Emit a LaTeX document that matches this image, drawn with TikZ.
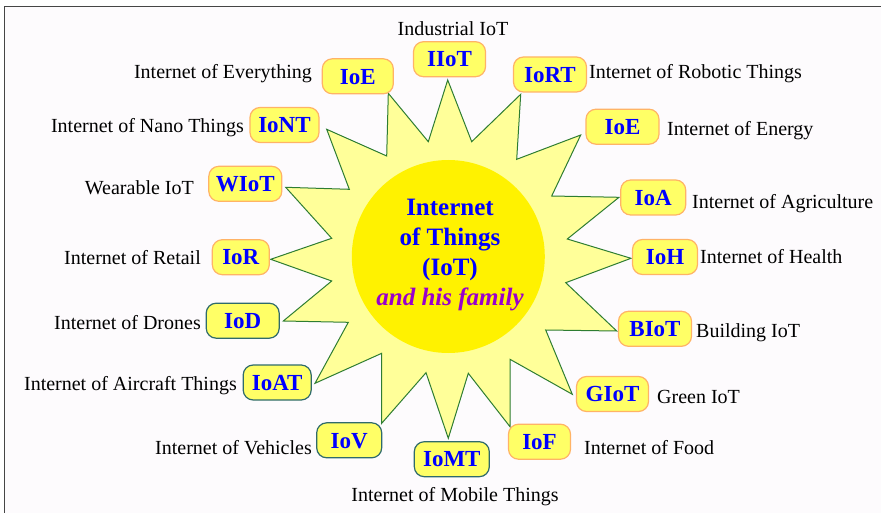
\documentclass[tikz,border=0pt]{standalone}
\usepackage{fontspec}
\setmainfont{Liberation Serif}

\definecolor{sunfill}{HTML}{FFFF99}
\definecolor{sunline}{HTML}{2E7D32}
\definecolor{boxfill}{HTML}{FFFF66}
\definecolor{boxorange}{HTML}{FFB366}
\definecolor{boxteal}{HTML}{2F6B6B}
\definecolor{famcol}{HTML}{9900CC}
\definecolor{framecol}{HTML}{454545}
\definecolor{bgcol}{RGB}{253,251,253}

\tikzset{
  fam/.style={fill=boxfill, line width=1.2pt, rounded corners=10pt, minimum height=35pt,
    inner sep=0pt, text height=15.5pt, text depth=0pt, text=blue,
    font=\fontsize{23}{26}\selectfont\bfseries},
  lbl/.style={inner sep=0pt, text height=14pt, text depth=4pt, font=\fontsize{20}{24}\selectfont},
}

\begin{document}
\begin{tikzpicture}[x=1pt,y=-1pt]
\useasboundingbox (0,0) rectangle (881,513);
\fill[bgcol] (4.3,6.5) rectangle (881,513);
\draw[framecol, line width=1.5pt] (4.3,513) -- (4.3,6.5) -- (881,6.5);

\draw[sunline, fill=sunfill, line width=1pt, line join=miter] (447.7,80)
  \foreach \p in {{471.7,141.7},{520.7,94.3},{516.7,159.3},{580.7,135},{551.7,196},
    {619,197.3},{567.3,239},{631,258.3},{565.7,282.7},{616.7,331},{545.7,330},
    {572.3,394.3},{510,359.3},{510,426.7},{468.3,373.3},{448.3,438.3},{426,372.7},
    {381.7,423.3},{381.7,353.3},{315,383.3},{348.3,322.3},{283.3,321},{331.7,281},
    {270.7,259.3},{331.7,238.3},{285.7,187.3},{349.3,189.3},{326.7,129.3},
    {386.7,156},{388.3,93.3},{428.3,141.7}} {-- (\p)} -- cycle;
\fill[yellow] (448.3,256.5) circle[radius=96.5];
\node[align=center, font=\fontsize{25}{29.7}\selectfont\bfseries, text=blue] (core) at (450,255)
  {Internet\\of Things\\(IoT)\\\textcolor{famcol}{\itshape and his family}};

\foreach \nm/\x/\y/\w/\bc/\txt in {
    iiot/449.5/59.2/72/boxorange/IIoT, ioe/357.8/76.3/71/boxorange/IoE,
    iort/550/74.5/73/boxorange/IoRT, ioen/622.5/126.7/73/boxorange/IoE,
    ioa/653.2/197.5/65/boxorange/IoA, ioh/665/257/65/boxorange/IoH,
    biot/655/328.8/73/boxorange/BIoT, giot/612.5/394/72/boxorange/GIoT,
    iof/539.5/441.7/62/boxorange/IoF, iomt/451.8/459.2/75/boxteal/IoMT,
    iov/349.2/440.3/65/boxteal/IoV, ioat/277.2/382.5/68/boxteal/IoAT,
    iod/242.7/320.7/73/boxteal/IoD, ior/240.8/257.2/57/boxorange/IoR,
    wiot/245.3/183.8/73/boxorange/WIoT, iont/284.5/125/69/boxorange/IoNT}
  \node[fam, draw=\bc, minimum width=\w pt] (\nm) at (\x,\y) {\txt};

\foreach \nm/\x/\y/\an/\txt in {
    iiot/453/31/center/Industrial IoT, ioe/312/74/east/Internet of Everything,
    iort/589/74/west/Internet of Robotic Things, ioen/667/131/west/Internet of Energy,
    ioa/692/204/west/Internet of Agriculture, ioh/700/259/west/Internet of Health,
    biot/696/332/west/Building IoT, giot/657/398/west/Green IoT,
    iof/584/449/west/Internet of Food, iomt/455/496/center/Internet of Mobile Things,
    iov/312/449/east/Internet of Vehicles, ioat/237/385/east/Internet of Aircraft Things,
    iod/201/324/east/Internet of Drones, ior/201/260/east/Internet of Retail,
    wiot/194/190/east/Wearable IoT, iont/244/128/east/Internet of Nano Things}
  \node[lbl, anchor=\an] (l\nm) at (\x,\y) {\txt};
\end{tikzpicture}
\end{document}
